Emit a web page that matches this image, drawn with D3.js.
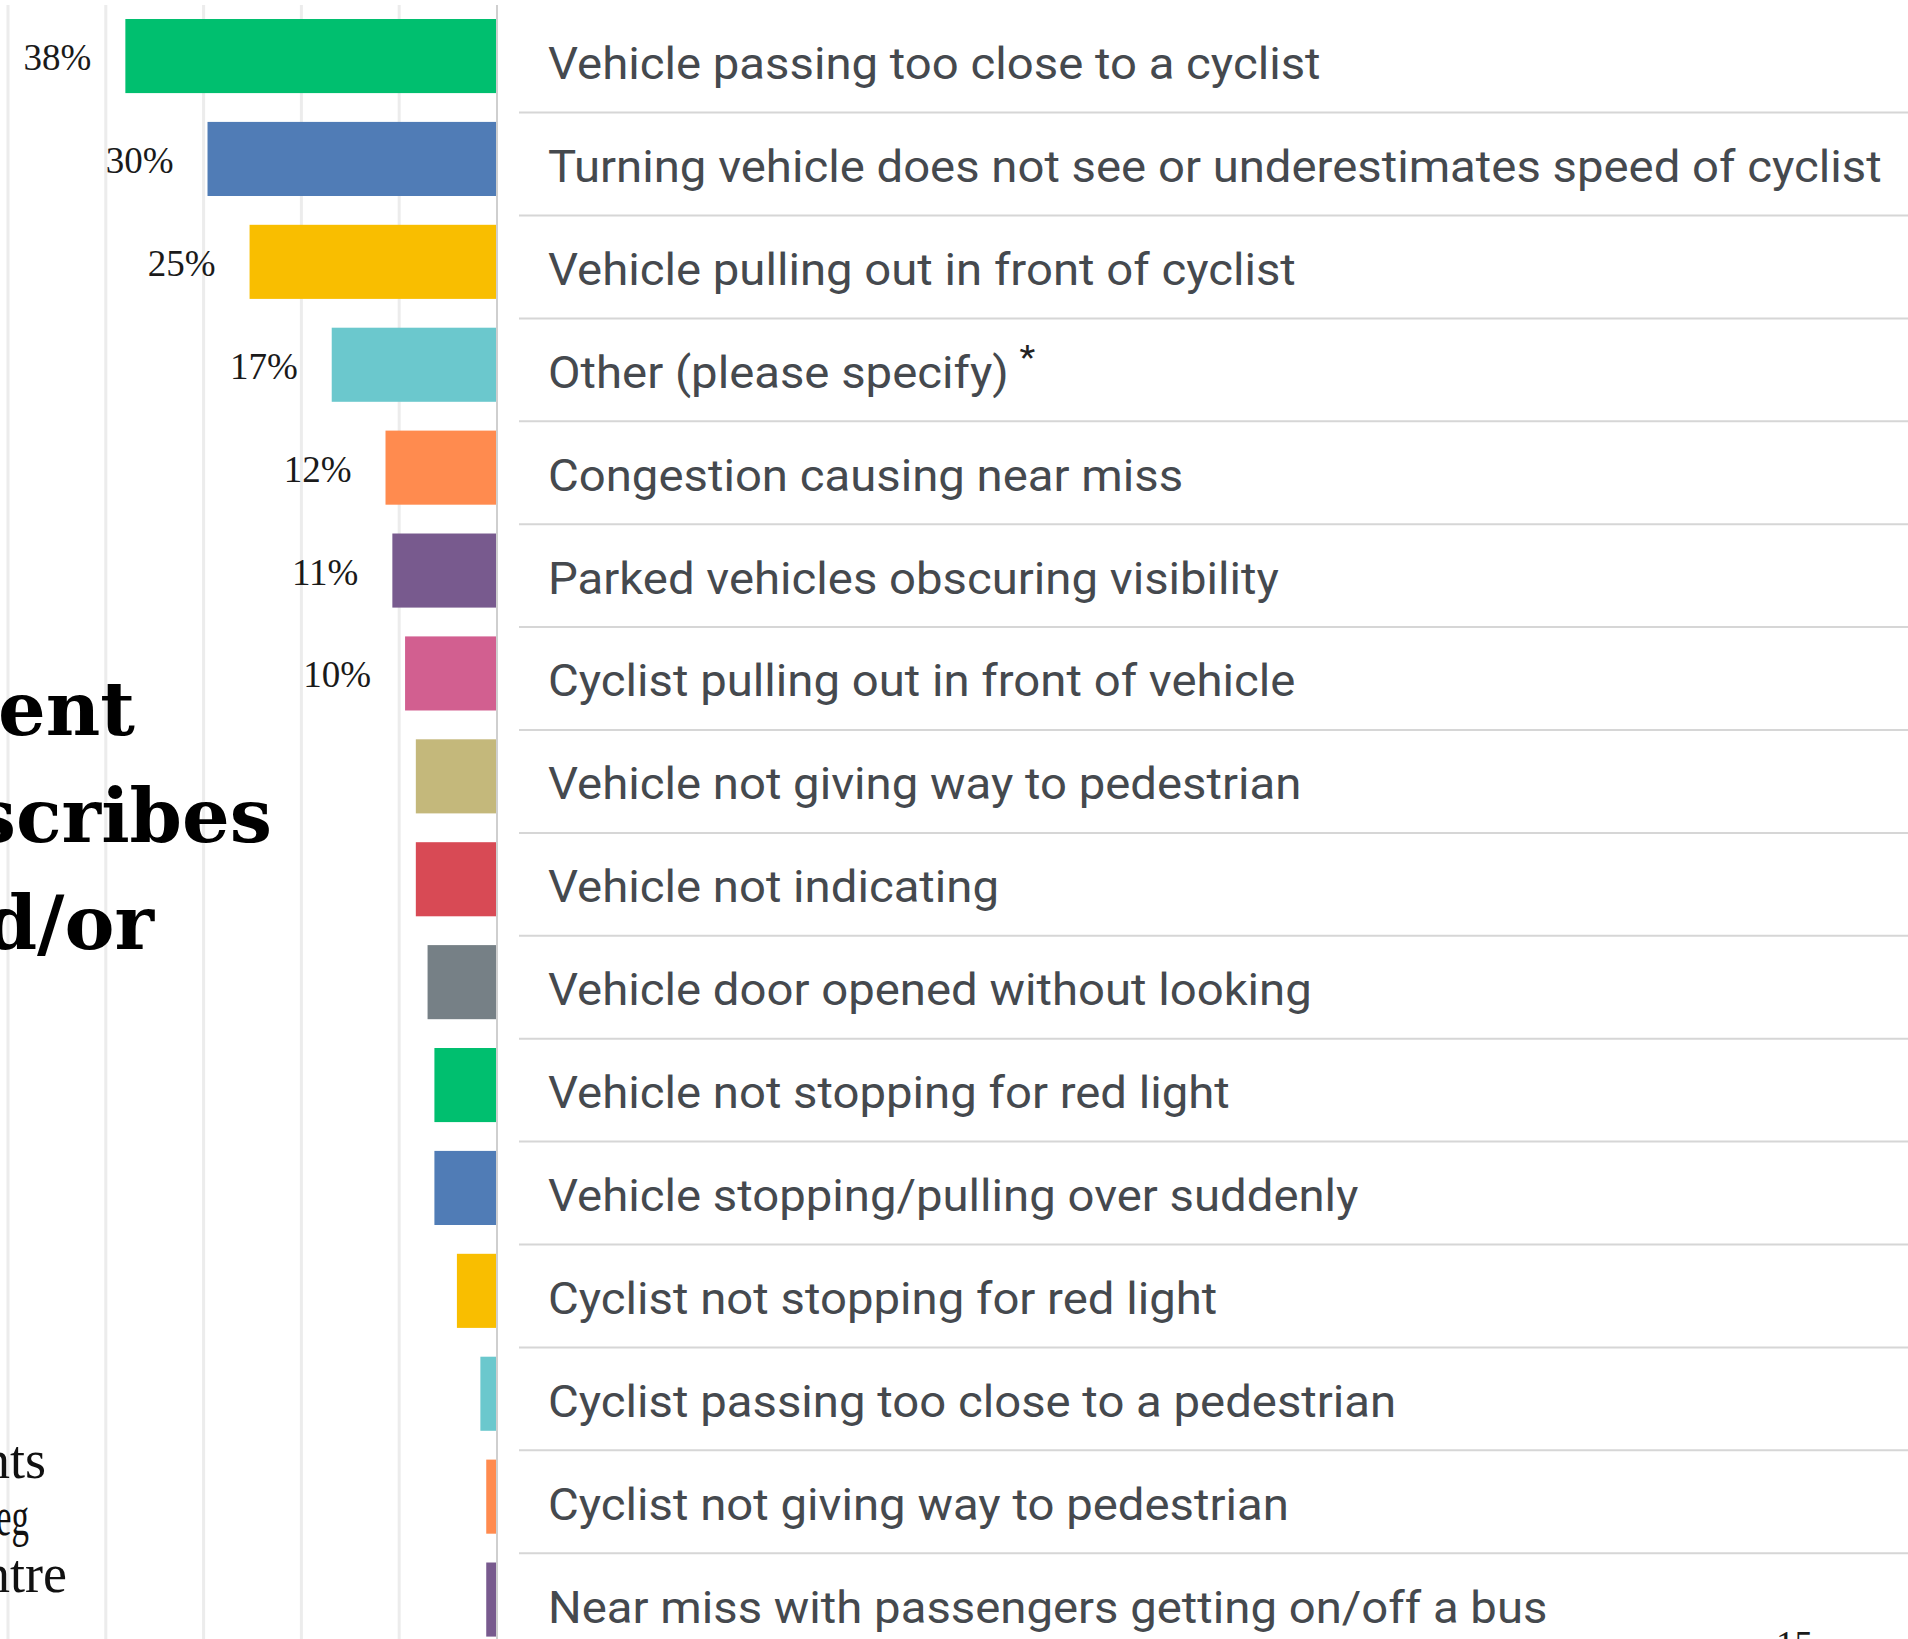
<!DOCTYPE html>
<html>
<head>
<meta charset="utf-8">
<script src="https://cdn.jsdelivr.net/npm/d3@7"></script>
<style>
  html, body { margin: 0; padding: 0; background: #ffffff; }
  svg { display: block; }
</style>
</head>
<body>
<svg id="chart" width="1908" height="1639"></svg>
<script>
// ---- data ----
const categories = [
  "Vehicle passing too close to a cyclist",
  "Turning vehicle does not see or underestimates speed of cyclist",
  "Vehicle pulling out in front of cyclist",
  "Other (please specify)",
  "Congestion causing near miss",
  "Parked vehicles obscuring visibility",
  "Cyclist pulling out in front of vehicle",
  "Vehicle not giving way to pedestrian",
  "Vehicle not indicating",
  "Vehicle door opened without looking",
  "Vehicle not stopping for red light",
  "Vehicle stopping/pulling over suddenly",
  "Cyclist not stopping for red light",
  "Cyclist passing too close to a pedestrian",
  "Cyclist not giving way to pedestrian",
  "Near miss with passengers getting on/off a bus"
];
const values = [38.0, 29.6, 25.3, 16.9, 11.4, 10.7, 9.4, 8.3, 8.3, 7.1, 6.4, 6.4, 4.1, 1.7, 1.1, 1.1];
const valueLabels = ["38%", "30%", "25%", "17%", "12%", "11%", "10%", "", "", "", "", "", "", "", "", ""];
const barColors = ["#00bf6f", "#507cb6", "#f9be00", "#6bc8cd", "#ff8b4f", "#785a8e", "#d25f90", "#c4b87b",
                   "#d84a55", "#768086", "#00bf6f", "#507cb6", "#f9be00", "#6bc8cd", "#ff8b4f", "#785a8e"];
const gridTicks = [10, 20, 30, 40, 50];
const titleLines = ["statement", "describes", "and/or"];
const noteLines = ["comments", "eg", "centre"];
const pageNumber = "15";

// ---- layout ----
const W = 1908, H = 1639;
const svg = d3.select("#chart");
svg.append("rect").attr("width", W).attr("height", H).attr("fill", "#ffffff");

const axisX = 497;
const x = d3.scaleLinear().domain([0, 50]).range([axisX, 8]);
const step = 102.9;
const y = d3.scaleBand()
  .domain(categories)
  .range([4.6, 4.6 + categories.length * step])
  .paddingInner(0.28)
  .paddingOuter(0.14);

// gridlines
svg.append("g")
  .selectAll("line")
  .data(gridTicks)
  .join("line")
  .attr("x1", d => x(d)).attr("x2", d => x(d))
  .attr("y1", 5).attr("y2", H)
  .attr("stroke", "#ececec")
  .attr("stroke-width", 3);

// left title (cropped at the page edge)
const title = svg.append("g");
titleLines.forEach((t, i) => {
  title.append("text")
    .attr("x", [135, 272, 154][i])
    .attr("y", 735 + i * 107)
    .attr("text-anchor", "end")
    .attr("font-family", "'DejaVu Serif', serif")
    .attr("font-weight", "bold")
    .attr("font-size", 75)
    .attr("fill", "#000")
    .text(t);
});
noteLines.forEach((t, i) => {
  const tx = title.append("text")
    .attr("y", 1478 + i * 57)
    .attr("font-family", "'Liberation Serif', serif")
    .attr("font-size", 54)
    .attr("fill", "#111")
    .text(t);
  if (t === "eg") {
    tx.attr("x", -4).attr("textLength", 33).attr("lengthAdjust", "spacingAndGlyphs");
  } else {
    tx.attr("x", [46, 29, 67][i]).attr("text-anchor", "end");
  }
});

// bars
svg.append("g")
  .selectAll("rect")
  .data(categories)
  .join("rect")
  .attr("x", (d, i) => x(values[i]))
  .attr("y", d => y(d))
  .attr("width", (d, i) => axisX - x(values[i]))
  .attr("height", y.bandwidth())
  .attr("fill", (d, i) => barColors[i]);

// axis line
svg.append("line")
  .attr("x1", axisX).attr("x2", axisX)
  .attr("y1", 5).attr("y2", H)
  .attr("stroke", "#cfcfcf")
  .attr("stroke-width", 2);

// value labels
svg.append("g")
  .selectAll("text")
  .data(categories)
  .join("text")
  .attr("x", (d, i) => x(values[i]) - 34)
  .attr("y", d => y(d) + y.bandwidth() / 2 + 14)
  .attr("text-anchor", "end")
  .attr("font-family", "'Liberation Serif', serif")
  .attr("font-size", 37)
  .attr("fill", "#1a1a1a")
  .text((d, i) => valueLabels[i]);

// separators
svg.append("g")
  .selectAll("line")
  .data(categories.slice(0, -1))
  .join("line")
  .attr("x1", 519).attr("x2", W)
  .attr("y1", d => y(d) + y.bandwidth() + 19.5)
  .attr("y2", d => y(d) + y.bandwidth() + 19.5)
  .attr("stroke", "#d6d6d6")
  .attr("stroke-width", 2);

// category labels
const labelX = 548;
const lg = svg.append("g");
const labels = lg.selectAll("text")
  .data(categories)
  .join("text")
  .attr("x", 0)
  .attr("y", d => y(d) + y.bandwidth() / 2 + 23)
  .attr("font-family", "Roboto, 'Noto Sans', sans-serif")
  .attr("font-size", 44)
  .attr("fill", "#45494e")
  .text(d => d);

// fit horizontal scale so the longest label ends where the reference does
let maxW = 0;
labels.each(function() { maxW = Math.max(maxW, this.getComputedTextLength()); });
const sx = (1882 - labelX) / maxW;
lg.attr("transform", `translate(${labelX},0) scale(${sx},1)`);

// asterisk after "Other (please specify)"
labels.filter(d => d === "Other (please specify)")
  .append("tspan")
  .attr("dx", 10)
  .attr("dy", -19)
  .attr("font-size", 34)
  .attr("fill", "#222")
  .text("*");

// cropped page number
svg.append("text")
  .attr("x", 1776)
  .attr("y", 1657)
  .attr("font-family", "'Liberation Serif', serif")
  .attr("font-size", 37)
  .attr("fill", "#1a1a1a")
  .text(pageNumber);
</script>
</body>
</html>
